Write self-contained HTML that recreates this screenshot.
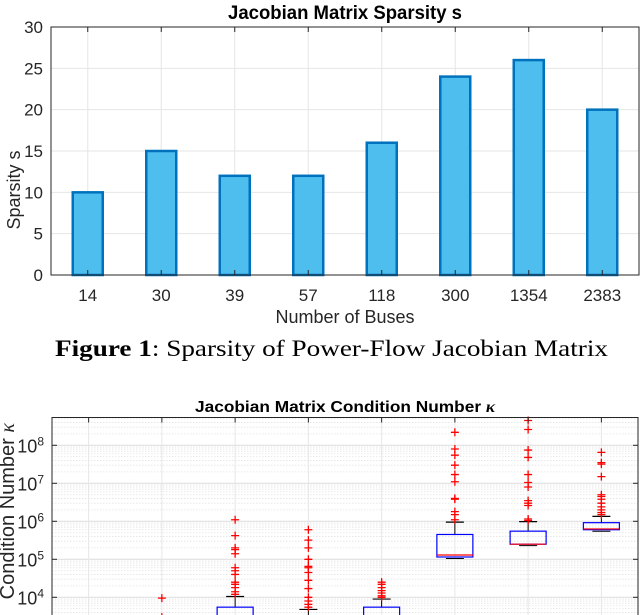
<!DOCTYPE html>
<html><head><meta charset="utf-8"><style>
body{margin:0;background:#fff;width:640px;height:615px;overflow:hidden}
svg{display:block}
text{font-family:"Liberation Sans",sans-serif}
</style></head><body>
<svg id="svg" width="640" height="615">
<g id="top"></g>
<text x="55" y="356" font-size="23" fill="#000" textLength="553" lengthAdjust="spacingAndGlyphs" style="font-family:'Liberation Serif',serif"><tspan font-weight="bold">Figure 1</tspan>: Sparsity of Power-Flow Jacobian Matrix</text>
<g id="bot"></g>
</svg>
<script>
const categories=["14","30","39","57","118","300","1354","2383"];
const sparsity=[10,15,12,12,16,24,26,20];
const yTicks=[0,5,10,15,20,25,30];
// box plot data (condition number)
const q1=[null,null,null,null,null,1.15e5,2.5e5,6e5];
const med=[null,null,null,null,null,1.3e5,2.5e5,6.3e5];
const q3=[null,null,5.5e3,null,5.5e3,4.5e5,5.5e5,9.2e5];
const whiskHi=[null,null,1.05e4,4.8e3,9e3,9.5e5,9.8e5,1.35e6];
const outliers=[
 [],
 [9.5e3,3e3],
 [1.1e6,4.2e5,2e5,1.8e5,1.4e5,6e4,5e4,4e4,2.5e4,2.2e4,1.8e4,1.4e4,1.2e4],
 [6e5,3.2e5,2e5,1e5,6.5e4,6e4,4.5e4,2.8e4,1.7e4,1e4,8e3,6.5e3,5.5e3],
 [2.5e4,2.2e4,1.8e4,1.5e4,1.3e4,1.1e4,1e4],
 [2.2e8,8e7,5.5e7,3e7,1.7e7,1.1e7,4e6,3.8e6,1.8e6,1.5e6,1.1e6],
 [4.5e8,2.6e8,7.5e7,4.8e7,1.7e7,1.05e7,8e6,3.5e6,3e6,2.6e6,1.15e6,1.05e6],
 [6.5e7,3.5e7,3.2e7,1.5e7,5e6,4.5e6,3.8e6,3e6,2.4e6,2e6,1.7e6,1.5e6]];
const logTicks=[4,5,6,7,8];

const NS="http://www.w3.org/2000/svg";
function mk(p,t,a){const e=document.createElementNS(NS,t);for(const k in a)e.setAttribute(k,a[k]);p.appendChild(e);return e;}

// top chart
const T=document.getElementById('top');
const L=51,R=639,TT=27,TB=275;
const xb=i=>L+(R-L)/categories.length*(i+0.5);
const ys=v=>TB-(TB-TT)*v/30;
mk(T,'rect',{x:L,y:TT,width:R-L,height:TB-TT,fill:'#fff'});
categories.forEach((c,i)=>{const g=mk(T,'line',{x1:xb(i),x2:xb(i),y1:TT,y2:TB,stroke:'#e6e6e6'});

});
yTicks.forEach(v=>{const g=mk(T,'line',{x1:L,x2:R,y1:ys(v),y2:ys(v),stroke:'#e6e6e6'});


const t=mk(T,'text',{x:L-8,y:ys(v)+6,'text-anchor':'end','font-size':17,fill:'#262626'});t.textContent=v;

});
sparsity.forEach((v,i)=>{const b=mk(T,'rect',{x:xb(i)-15,y:ys(v),width:30,height:TB-ys(v),fill:'#4dbeee',stroke:'#0072bd','stroke-width':2.5});


const t=mk(T,'text',{x:xb(i),y:TB+26,'text-anchor':'middle','font-size':17,fill:'#262626'});t.textContent=categories[i];

});
mk(T,'rect',{x:L,y:TT,width:R-L,height:TB-TT,fill:'none',stroke:'#262626','stroke-width':1});
categories.forEach((c,i)=>{mk(T,'line',{x1:xb(i),x2:xb(i),y1:TB,y2:TB-5,stroke:'#262626'});mk(T,'line',{x1:xb(i),x2:xb(i),y1:TT,y2:TT+5,stroke:'#262626'});});
let t1=mk(T,'text',{x:345,y:19,'text-anchor':'middle','font-size':19,'font-weight':'bold',fill:'#000',textLength:234,lengthAdjust:'spacingAndGlyphs'});t1.textContent='Jacobian Matrix Sparsity s';


t1=mk(T,'text',{x:345,y:323,'text-anchor':'middle','font-size':18,fill:'#262626'});t1.textContent='Number of Buses';


t1=mk(T,'text',{x:0,y:0,'text-anchor':'middle','font-size':18,fill:'#262626',transform:'translate(20,190) rotate(-90)'});t1.textContent='Sparsity s';



// bottom chart
const B=document.getElementById('bot');
const BL=52,BR=638,BT=417.5;
const yl=v=>597.3-(Math.log10(v)-4)*38;
const xc=i=>BL+(BR-BL)/categories.length*(i+0.5);
for(let d=3;d<9;d++)for(let m=1;m<10;m++){const y=yl(m*Math.pow(10,d));if(y<BT||y>615)continue;
 const g=mk(B,'line',{x1:BL,x2:BR,y1:y,y2:y,stroke:m==1?'#e0e0e0':'#e3e3e3','stroke-dasharray':m==1?'':'1.5,1.5','stroke-width':m==1?1.2:0.8});
 
 }
categories.forEach((c,i)=>{const g=mk(B,'line',{x1:xc(i),x2:xc(i),y1:BT,y2:615,stroke:'#e6e6e6'});

});
logTicks.forEach(p=>{const y=yl(Math.pow(10,p));
 const t=mk(B,'text',{x:BL-8,y:y+7,'text-anchor':'end','font-size':18,fill:'#262626'});t.innerHTML='10<tspan dy="-7" font-size="12">'+p+'</tspan>';
 
 
 mk(B,'line',{x1:BL,x2:BL+5,y1:y,y2:y,stroke:'#262626'});mk(B,'line',{x1:BR,x2:BR-5,y1:y,y2:y,stroke:'#262626'});});
categories.forEach((c,i)=>{const x=xc(i);const g=mk(B,'g',{});
 
 
 if(whiskHi[i]!=null){const lo=q3[i]!=null?yl(q3[i]):615;
  mk(g,'line',{x1:x,x2:x,y1:yl(whiskHi[i]),y2:lo,stroke:'#000','stroke-width':1});
  mk(g,'line',{x1:x-9,x2:x+9,y1:yl(whiskHi[i]),y2:yl(whiskHi[i]),stroke:'#000','stroke-width':1.2});}
 if(q3[i]!=null){const bot=q1[i]!=null?yl(q1[i]):616;
  mk(g,'rect',{x:x-18,y:yl(q3[i]),width:36,height:bot-yl(q3[i]),fill:'none',stroke:'#0000ff','stroke-width':1.2});
  if(q1[i]!=null){mk(g,'line',{x1:x-9,x2:x+9,y1:bot+1.5,y2:bot+1.5,stroke:'#000'});}}
 if(med[i]!=null)mk(g,'line',{x1:x-18,x2:x+18,y1:yl(med[i]),y2:yl(med[i]),stroke:'#ff0000','stroke-width':1.2});
 outliers[i].forEach(v=>{const y=yl(v);mk(g,'path',{d:`M${x-4} ${y}H${x+4}M${x} ${y-4}V${y+4}`,stroke:'#ff0000','stroke-width':1.3});});
});
mk(B,'rect',{x:BL,y:BT,width:BR-BL,height:220,fill:'none',stroke:'#262626'});
categories.forEach((c,i)=>mk(B,'line',{x1:xc(i),x2:xc(i),y1:BT,y2:BT+5,stroke:'#262626'}));
t1=mk(B,'text',{x:345,y:412,'text-anchor':'middle','font-size':16,'font-weight':'bold',fill:'#000',textLength:300,lengthAdjust:'spacingAndGlyphs'});t1.innerHTML='Jacobian Matrix Condition Number <tspan font-style="italic" font-family="Liberation Serif">κ</tspan>';


t1=mk(B,'text',{x:0,y:0,'text-anchor':'end','font-size':20,fill:'#262626',transform:'translate(14,423) rotate(-90)'});t1.innerHTML='Condition Number <tspan font-style="italic" font-family="Liberation Serif">κ</tspan>';


</script>
</body></html>
